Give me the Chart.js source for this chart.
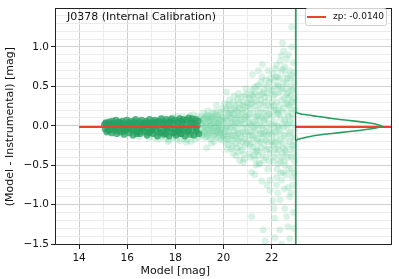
<!DOCTYPE html>
<html>
<head>
<meta charset="utf-8">
<script src="https://cdn.jsdelivr.net/npm/chart.js@4.4.1/dist/chart.umd.min.js"></script>
<style>
  html, body { margin: 0; padding: 0; background: #fff; overflow: hidden; }
  canvas { display: block; }
</style>
</head>
<body>
<canvas id="chart" width="399" height="279"></canvas>
<script>
// stars inside the fit range (model mag, residual)
const fitPoints = [
  [15.05,0.01],[15.08,-0.04],[15.12,0.04],[15.15,-0.08],[15.2,-0.01],[15.24,0.05],[15.28,-0.05],[15.3,0.02],
  [15.35,-0.09],[15.38,0.06],[15.42,-0.02],[15.46,0.03],[15.5,-0.06],[15.53,0.07],[15.57,-0.1],[15.6,0.0],
  [15.64,0.05],[15.68,-0.04],[15.72,-0.08],[15.75,0.03],[15.8,0.06],[15.83,-0.02],[15.87,-0.11],[15.9,0.02],
  [15.94,-0.06],[15.98,0.07],[16.02,-0.03],[16.05,0.04],[16.1,-0.09],[16.13,0.01],[16.17,0.06],[16.2,-0.05],
  [16.24,-0.12],[16.27,0.03],[16.31,-0.01],[16.35,0.08],[16.38,-0.07],[16.42,0.02],[16.46,-0.03],[16.5,0.05],
  [16.53,-0.1],[16.57,0.0],[16.6,0.07],[16.64,-0.05],[16.68,0.03],[16.71,-0.08],[16.75,-0.01],[16.79,0.06],
  [16.82,-0.12],[16.86,0.02],[16.9,-0.04],[16.93,0.08],[16.97,-0.07],[17.0,0.01],[17.04,0.05],[17.08,-0.1],
  [17.11,-0.02],[17.15,0.07],[17.19,-0.06],[17.22,0.03],[17.26,-0.13],[17.3,0.0],[17.33,0.06],[17.37,-0.04],
  [17.41,0.09],[17.44,-0.08],[17.48,0.02],[17.52,-0.11],[17.55,0.05],[17.59,-0.02],[17.63,0.08],[17.66,-0.06],
  [17.7,0.01],[17.74,-0.13],[17.77,0.06],[17.81,-0.03],[17.85,0.09],[17.88,-0.09],[17.92,0.03],[17.96,-0.05],
  [18.0,0.07],[18.03,-0.12],[18.07,0.0],[18.11,0.05],[18.14,-0.07],[18.18,0.09],[18.22,-0.02],[18.25,-0.1],
  [18.29,0.04],[18.33,0.08],[18.36,-0.05],[18.4,-0.13],[18.44,0.02],[18.47,0.07],[18.51,-0.08],[18.55,0.1],
  [18.58,-0.01],[18.62,-0.11],[18.66,0.05],[18.69,0.09],[18.73,-0.04],[18.77,-0.12],[18.8,0.03],[18.84,0.08],
  [18.88,-0.07],[18.91,0.0],[18.95,0.06],[18.97,-0.1],
  [15.1,0.03],[15.22,-0.06],[15.4,0.01],[15.55,-0.03],[15.7,0.04],[15.85,-0.07],[16.0,0.01],[16.15,-0.04],
  [16.3,0.05],[16.45,-0.08],[16.6,-0.02],[16.75,0.04],[16.9,-0.09],[17.05,-0.04],[17.2,0.05],[17.35,-0.09],
  [17.5,0.03],[17.65,-0.03],[17.8,0.04],[17.95,-0.09],[18.1,-0.04],[18.25,0.06],[18.4,-0.03],[18.55,-0.06],
  [18.7,0.02],[18.85,-0.03],[18.2,-0.1],[17.6,-0.1],[16.95,0.03],[16.4,-0.1]
];

// all the other stars, drawn faint
const otherPoints = [
  [17.1,-0.15],[17.3,-0.17],[17.45,-0.14],[17.6,-0.16],[17.75,-0.18],[17.9,-0.15],[18.05,-0.17],[18.2,-0.19],
  [18.35,-0.16],[18.5,-0.18],[18.65,-0.2],[18.8,-0.17],[18.95,-0.15],[17.5,0.1],[17.9,0.11],[18.3,0.12],
  [18.6,0.13],[18.9,0.12],[18.45,-0.21],[18.75,0.14],[16.9,-0.15],[16.5,-0.14],[18.1,0.12],[17.7,-0.2],
  [19.02,0.08],[19.05,-0.05],[19.08,0.12],[19.1,-0.12],[19.13,0.02],[19.16,-0.08],[19.19,0.1],[19.22,-0.15],
  [19.25,0.04],[19.28,-0.02],[19.31,0.14],[19.34,-0.1],[19.37,0.06],[19.4,-0.06],[19.43,0.0],[19.46,-0.17],
  [19.49,0.11],[19.52,-0.03],[19.55,0.16],[19.58,-0.12],[19.61,0.05],[19.64,-0.07],[19.67,0.09],[19.7,-0.14],
  [19.73,0.02],[19.76,0.13],[19.79,-0.09],[19.82,-0.01],[19.85,0.17],[19.88,-0.18],[19.91,0.07],[19.94,-0.05],
  [19.97,0.11],[19.99,-0.13],[19.15,0.16],[19.35,0.19],[19.6,-0.2],[19.45,0.07],[19.8,0.04],[19.9,-0.1],
  [19.3,-0.14],[19.7,0.18],[19.5,-0.22],[19.95,0.22],[19.65,-0.01],[19.2,0.0],[19.4,0.13],[19.75,-0.04],
  [19.55,0.02],[19.85,-0.06],[19.3,-0.28],[19.7,0.26],
  [19.03,-0.1],[19.07,0.03],[19.11,0.07],[19.14,-0.03],[19.18,-0.11],[19.21,0.09],[19.24,-0.07],[19.27,0.12],
  [19.29,0.01],[19.33,-0.05],[19.36,0.1],[19.39,-0.13],[19.42,0.05],[19.44,-0.09],[19.48,0.0],[19.51,0.09],
  [19.54,-0.08],[19.57,0.12],[19.59,-0.03],[19.62,0.15],[19.66,-0.11],[19.69,0.04],[19.72,-0.06],[19.74,0.1],
  [19.78,-0.15],[19.81,0.08],[19.84,0.01],[19.87,-0.09],[19.89,0.14],[19.93,-0.02],[19.96,0.06],[19.98,-0.16],
  [20.02,0.05],[20.05,-0.12],[20.08,0.19],[20.1,-0.22],[20.12,0.43],[20.14,0.0],[20.17,0.12],[20.2,-0.07],
  [20.23,0.25],[20.26,-0.17],[20.29,0.06],[20.32,-0.29],[20.35,0.16],[20.38,-0.02],[20.41,0.3],[20.44,-0.12],
  [20.47,0.09],[20.5,-0.22],[20.53,0.2],[20.56,-0.05],[20.59,0.34],[20.62,-0.33],[20.65,0.02],[20.68,-0.44],
  [20.71,0.14],[20.74,-0.15],[20.77,0.26],[20.8,-0.08],[20.82,-0.46],[20.85,0.08],[20.88,0.38],[20.91,-0.25],
  [20.94,0.18],[20.97,-0.02],[20.99,0.29],[20.15,-0.3],[20.25,0.33],[20.3,0.1],[20.4,-0.35],[20.45,0.22],
  [20.55,-0.16],[20.6,0.12],[20.7,-0.26],[20.75,0.05],[20.8,0.21],[20.9,-0.1],[20.95,0.4],[20.05,0.28],
  [20.35,-0.19],[20.65,0.28],[20.85,-0.36],[20.5,0.04],[20.2,0.16],[20.1,-0.04],[20.6,-0.09],[20.72,0.36],
  [20.42,0.01],[20.9,0.11],[20.18,-0.14],[20.78,-0.2],
  [20.03,-0.08],[20.06,0.1],[20.09,-0.17],[20.11,0.21],[20.13,-0.01],[20.16,0.07],[20.19,-0.24],[20.21,0.27],
  [20.24,-0.1],[20.27,0.15],[20.28,-0.02],[20.31,0.2],[20.33,-0.12],[20.36,0.04],[20.39,-0.26],[20.43,0.14],
  [20.46,-0.06],[20.49,0.26],[20.51,-0.14],[20.54,0.1],[20.57,-0.28],[20.58,0.18],[20.61,0.03],[20.63,-0.19],
  [20.66,0.22],[20.69,-0.1],[20.73,0.08],[20.76,-0.31],[20.79,0.16],[20.81,-0.03],[20.84,0.3],[20.87,-0.17],
  [20.89,0.02],[20.92,0.24],[20.96,-0.22],[20.98,0.13],[20.44,0.38],[20.63,0.41],[20.93,0.47],[20.52,-0.38],
  [20.87,-0.42],
  [21.02,0.1],[21.04,-0.18],[21.06,0.35],[21.08,-0.35],[21.1,0.02],[21.12,0.22],[21.14,-0.08],[21.17,-0.59],
  [21.17,-1.15],[21.19,0.45],[21.2,0.65],[21.22,-0.27],[21.24,0.15],[21.26,-0.02],[21.28,0.3],[21.3,-0.42],
  [21.32,0.06],[21.34,-0.15],[21.36,0.5],[21.38,-0.3],[21.4,0.2],[21.42,-0.05],[21.44,0.38],[21.46,-0.48],
  [21.48,0.1],[21.5,-0.48],[21.52,0.27],[21.54,-0.2],[21.56,0.55],[21.58,0.0],[21.6,0.62],[21.62,-0.35],
  [21.64,0.16],[21.65,-1.32],[21.66,-0.1],[21.68,0.42],[21.7,-0.25],[21.72,-1.46],[21.72,0.08],[21.74,0.3],
  [21.76,-0.4],[21.78,0.2],[21.8,-0.12],[21.82,0.5],[21.84,-0.55],[21.86,0.04],[21.88,0.35],[21.9,-0.3],
  [21.92,0.14],[21.93,-0.82],[21.93,-0.69],[21.94,-0.05],[21.96,0.45],[21.98,-0.2],[21.05,0.05],[21.15,0.28],
  [21.25,-0.38],[21.35,0.12],[21.45,-0.22],[21.55,0.33],[21.65,-0.03],[21.75,-0.18],[21.85,0.26],[21.95,0.6],
  [21.1,-0.25],[21.3,0.4],[21.5,0.02],[21.7,0.48],[21.9,-0.45],[21.2,-0.12],[21.4,-0.32],[21.6,0.1],
  [21.8,-0.02],[21.35,-0.5],[21.55,-0.1],[21.75,0.58],[21.45,0.52],[21.15,0.4],
  [21.01,-0.08],[21.03,0.25],[21.07,-0.12],[21.09,0.15],[21.11,-0.4],[21.13,0.33],[21.16,0.0],[21.18,-0.22],
  [21.21,0.38],[21.23,0.05],[21.25,-0.15],[21.27,0.48],[21.29,-0.05],[21.31,0.25],[21.33,-0.33],[21.37,0.02],
  [21.39,0.32],[21.41,-0.18],[21.43,0.12],[21.47,-0.38],[21.49,0.44],[21.51,-0.1],[21.53,0.18],[21.57,-0.28],
  [21.59,0.4],[21.61,-0.16],[21.63,0.26],[21.67,-0.44],[21.69,0.06],[21.71,0.36],[21.73,-0.08],[21.77,0.12],
  [21.79,-0.3],[21.81,0.42],[21.83,-0.2],[21.87,0.15],[21.89,-0.1],[21.91,0.55],[21.95,-0.35],[21.97,0.25],
  [21.99,0.02],[21.45,0.7],[21.62,0.78],[21.85,0.7],[21.3,-0.62],[21.58,-0.7],[21.8,-0.75],
  [22.83,1.25],[22.83,1.0],[22.4,0.89],[22.55,0.75],[22.2,0.77],[22.05,0.66],[22.83,0.64],[22.25,0.52],
  [22.6,0.47],[22.7,0.9],[22.9,0.8],[22.45,1.05],[22.65,0.6],
  [22.34,-1.32],[22.68,-1.28],[22.13,-1.42],[22.75,-1.43],[22.13,-1.17],[22.34,-0.94],[22.75,-0.9],[22.48,-0.59],
  [22.2,-0.75],[22.68,-0.78],[22.41,-0.69],[22.9,-1.1],[22.55,-1.05],[22.85,-0.65],[22.05,-0.95],
  [22.02,0.12],[22.04,-0.25],[22.06,0.38],[22.08,-0.08],[22.1,0.25],[22.12,-0.4],[22.14,0.05],[22.16,0.5],
  [22.18,-0.15],[22.2,0.3],[22.22,-0.55],[22.24,0.0],[22.26,0.18],[22.28,-0.3],[22.3,0.42],[22.32,-0.05],
  [22.34,0.6],[22.36,-0.45],[22.38,0.1],[22.4,-0.2],[22.42,0.33],[22.44,0.02],[22.46,-0.35],[22.48,0.22],
  [22.5,0.55],[22.52,-0.12],[22.54,0.08],[22.56,-0.5],[22.58,0.28],[22.6,-0.25],[22.62,0.4],[22.64,-0.02],
  [22.66,0.15],[22.68,-0.4],[22.7,0.35],[22.72,-0.1],[22.74,0.7],[22.76,0.05],[22.78,-0.3],[22.8,0.22],
  [22.82,-0.55],[22.84,0.45],[22.86,-0.15],[22.88,0.1],[22.9,0.3],[22.92,-0.35],[22.94,0.55],[22.96,-0.05],
  [22.05,0.45],[22.15,-0.3],[22.25,0.62],[22.35,-0.18],[22.45,0.48],[22.55,-0.32],[22.65,0.28],[22.75,-0.2],
  [22.85,0.15],[22.95,-0.45],[22.1,-0.2],[22.3,0.15],[22.5,-0.02],[22.7,0.12],[22.9,-0.25],[22.2,-0.65],
  [22.4,0.7],[22.6,-0.62],[22.8,0.5],[22.08,0.58],[22.28,-0.48],[22.58,0.65],[22.88,-0.75],[22.18,0.2],
  [22.38,-0.6],[22.78,0.38],[22.98,0.2],
  [22.01,-0.12],[22.03,0.3],[22.07,-0.45],[22.09,0.2],[22.11,0.0],[22.13,-0.22],[22.15,0.4],[22.17,-0.08],
  [22.19,0.62],[22.21,-0.35],[22.23,0.15],[22.27,-0.02],[22.29,0.5],[22.31,-0.25],[22.33,0.25],[22.37,-0.1],
  [22.39,0.45],[22.41,-0.4],[22.43,0.18],[22.47,0.72],[22.49,-0.28],[22.51,0.35],[22.53,-0.45],[22.57,0.05],
  [22.59,-0.15],[22.61,0.55],[22.63,-0.35],[22.67,0.42],[22.69,0.02],[22.71,-0.55],[22.73,0.25],[22.77,-0.08],
  [22.79,0.6],[22.81,-0.4],[22.83,0.3],[22.87,-0.25],[22.89,0.45],[22.91,0.02],[22.93,-0.6],[22.95,0.35],
  [22.97,-0.15],[22.35,0.82],[22.62,0.85],[22.15,0.72],[22.92,0.68],[22.5,0.95],[22.25,-0.85],[22.52,-0.8],
  [22.8,-0.85],[22.62,-1.15],[22.42,-1.5],[22.92,-1.3],[22.1,-1.05]
];

const zeroPoint = -0.014;
const fitRange = [14, 19];
const histEdge = 23;      // where the side histogram starts
const histEnd = 27;

// side distribution of residuals
const histDelta = [1.5, 0.2, 0.183, 0.163, 0.142, 0.121, 0.1, 0.08, 0.059, 0.038, 0.017, -0.004,
  -0.025, -0.045, -0.066, -0.087, -0.108, -0.129, -0.15, -0.17, -0.19, -0.21, -1.5];
const histMag = [23, 23, 23.0, 23.06, 23.38, 23.86, 24.35, 24.83, 25.45, 26.0, 26.38, 26.6,
  26.38, 26.0, 25.45, 24.83, 24.2, 23.7, 23.38, 23.1, 23.02, 23, 23];

const xTickLabels = [14, 16, 18, 20, 22];
const yTickLabels = [-1.5, -1.0, -0.5, 0.0, 0.5, 1.0];

const FONT = "DejaVu Sans";
const darkGreen = "rgba(38,160,95,0.75)";
const lightGreen = "rgba(110,210,160,0.26)";
const curveGreen = "#2a9e5e";
const red = "#e8432c";

function isMajorY(v) {
  return yTickLabels.some((t) => Math.abs(t - v) < 1e-6);
}

const overlay = {
  id: "overlay",
  afterDraw(chart) {
    const ctx = chart.ctx;
    const a = chart.chartArea;
    ctx.save();
    // frame
    ctx.strokeStyle = "#222";
    ctx.lineWidth = 1;
    ctx.strokeRect(Math.round(a.left) + 0.5, Math.round(a.top) + 0.5,
      Math.round(a.right - a.left) - 1, Math.round(a.bottom - a.top) - 1);

    // title inside the plot
    ctx.fillStyle = "#111";
    ctx.font = "11px '" + FONT + "'";
    ctx.textBaseline = "middle";
    ctx.textAlign = "left";
    ctx.fillText("J0378 (Internal Calibration)", 67, 17);

    // legend
    const bx = 305.5, by = 8.5, bw = 81, bh = 17;
    ctx.fillStyle = "rgba(255,255,255,0.8)";
    ctx.strokeStyle = "#d0d0d0";
    ctx.beginPath();
    ctx.roundRect(bx, by, bw, bh, 2);
    ctx.fill();
    ctx.stroke();
    ctx.strokeStyle = red;
    ctx.lineWidth = 2;
    ctx.beginPath();
    ctx.moveTo(307, 17);
    ctx.lineTo(326, 17);
    ctx.stroke();
    ctx.fillStyle = "#111";
    ctx.font = "9px '" + FONT + "'";
    ctx.fillText("zp: " + zeroPoint.toFixed(4), 333, 17);

    // x axis title, centred under the main panel only
    const xs = chart.scales.x;
    const cx = (a.left + xs.getPixelForValue(histEdge)) / 2;
    ctx.font = "11px '" + FONT + "'";
    ctx.textAlign = "center";
    ctx.fillText("Model [mag]", cx, 271);
    ctx.restore();
  }
};

new Chart(document.getElementById("chart").getContext("2d"), {
  type: "scatter",
  data: {
    datasets: [
      {
        label: "hist",
        data: histMag.map((m, i) => ({ x: m, y: histDelta[i] })),
        showLine: true,
        borderColor: curveGreen,
        borderWidth: 1.6,
        pointRadius: 0,
        tension: 0.25,
        order: 0
      },
      {
        label: "spine",
        data: [{ x: histEdge, y: -1.52 }, { x: histEdge, y: 1.5 }],
        showLine: true,
        borderColor: "#222",
        borderWidth: 1,
        pointRadius: 0,
        order: 1
      },
      {
        label: "zp",
        data: [{ x: fitRange[0], y: zeroPoint }, { x: fitRange[1], y: zeroPoint }],
        showLine: true,
        borderColor: red,
        borderWidth: 2,
        pointRadius: 0,
        order: 2
      },
      {
        label: "zp side",
        data: [{ x: histEdge, y: zeroPoint }, { x: histEnd, y: zeroPoint }],
        showLine: true,
        borderColor: red,
        borderWidth: 2,
        pointRadius: 0,
        order: 2
      },
      {
        label: "fit",
        data: fitPoints.map((p) => ({ x: p[0], y: p[1] })),
        backgroundColor: darkGreen,
        borderWidth: 0,
        pointRadius: 3.4,
        order: 3
      },
      {
        label: "others",
        data: otherPoints.map((p) => ({ x: p[0], y: p[1] })),
        backgroundColor: lightGreen,
        borderWidth: 0,
        pointRadius: 3.4,
        order: 4
      }
    ]
  },
  options: {
    responsive: false,
    animation: false,
    devicePixelRatio: 1,
    layout: { padding: { top: 5, right: 7, left: 0, bottom: 0 } },
    plugins: {
      legend: { display: false },
      tooltip: { enabled: false }
    },
    scales: {
      x: {
        type: "linear",
        min: 13,
        max: histEnd,
        afterBuildTicks: (scale) => {
          const t = [];
          for (let v = 14; v <= histEdge; v++) t.push({ value: v });
          scale.ticks = t;
        },
        afterFit: (scale) => { scale.height = 34; },
        border: { display: false },
        grid: {
          color: (c) => {
            const v = c.tick ? c.tick.value : 0;
            if (v >= histEdge) return "rgba(0,0,0,0)";
            return v % 2 === 0 ? "#cfcfcf" : "#ececec";
          },
          tickColor: (c) => (c.tick && xTickLabels.includes(c.tick.value) ? "#222" : "rgba(0,0,0,0)"),
          tickLength: 4,
          lineWidth: 1
        },
        ticks: {
          autoSkip: false,
          maxRotation: 0,
          padding: 3,
          color: "#111",
          font: { family: FONT, size: 10.5 },
          callback: (v) => (xTickLabels.includes(v) ? String(v) : "")
        }
      },
      y: {
        type: "linear",
        min: -1.512,
        max: 1.49,
        afterBuildTicks: (scale) => {
          const t = [];
          for (let i = -15; i <= 14; i++) t.push({ value: i / 10 });
          scale.ticks = t;
        },
        afterFit: (scale) => { scale.width = 55; },
        border: { display: false },
        grid: {
          color: (c) => (c.tick && isMajorY(c.tick.value) ? "#cfcfcf" : "#ececec"),
          tickColor: (c) => (c.tick && isMajorY(c.tick.value) ? "#222" : "rgba(0,0,0,0)"),
          tickLength: 4,
          lineWidth: 1
        },
        ticks: {
          autoSkip: false,
          padding: 2,
          color: "#111",
          font: { family: FONT, size: 10.5 },
          callback: (v) => (isMajorY(v) ? v.toFixed(1).replace("-", "\u2212") : "")
        },
        title: {
          display: true,
          text: "(Model - Instrumental) [mag]",
          color: "#111",
          font: { family: FONT, size: 11 },
          padding: { top: 4, bottom: 0 }
        }
      }
    }
  },
  plugins: [overlay]
});
</script>
</body>
</html>
